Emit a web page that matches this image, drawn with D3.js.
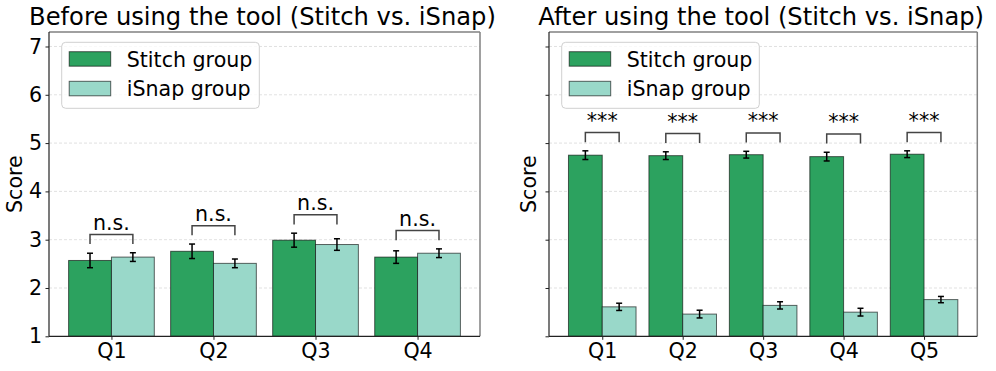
<!DOCTYPE html>
<html>
<head>
<meta charset="utf-8">
<script src="https://cdn.jsdelivr.net/npm/d3@7"></script>
<style>
  html, body { margin: 0; padding: 0; background: #fff; }
  svg { display: block; font-family: "DejaVu Sans", sans-serif; }
</style>
</head>
<body>
<svg id="chart" width="996" height="371"></svg>
<script>
// ---------------- data ----------------
const seriesNames = ["Stitch group", "iSnap group"];
const seriesColors = ["#2ca25f", "#99d8c9"];

const categoriesBefore = ["Q1", "Q2", "Q3", "Q4"];
const stitchBefore    = [2.57, 2.76, 2.99, 2.64];
const stitchBeforeErr = [0.15, 0.15, 0.145, 0.13];
const isnapBefore     = [2.64, 2.51, 2.90, 2.72];
const isnapBeforeErr  = [0.09, 0.09, 0.12, 0.09];
const sigBefore       = ["n.s.", "n.s.", "n.s.", "n.s."];

const categoriesAfter = ["Q1", "Q2", "Q3", "Q4", "Q5"];
const stitchAfter     = [4.75, 4.74, 4.76, 4.72, 4.77];
const stitchAfterErr  = [0.09, 0.08, 0.07, 0.09, 0.07];
const isnapAfter      = [1.61, 1.46, 1.64, 1.50, 1.76];
const isnapAfterErr   = [0.075, 0.08, 0.075, 0.08, 0.065];
const sigAfter        = ["***", "***", "***", "***", "***"];

const yTicks = [1, 2, 3, 4, 5, 6, 7];
const yDomain = [1, 7.3];
const titles = ["Before using the tool (Stitch vs. iSnap)", "After using the tool (Stitch vs. iSnap)"];
const yLabel = "Score";

// ---------------- layout ----------------
const svg = d3.select("#chart");
const barW = 0.42;
const FS = 20.6, TFS = 24.2;
const panels = [
  { left: 49, right: 480, cats: categoriesBefore, s: stitchBefore, se: stitchBeforeErr,
    i: isnapBefore, ie: isnapBeforeErr, sig: sigBefore, title: titles[0], showYLabels: true, labelX: 15 },
  { left: 549, right: 977.3, cats: categoriesAfter, s: stitchAfter, se: stitchAfterErr,
    i: isnapAfter, ie: isnapAfterErr, sig: sigAfter, title: titles[1], showYLabels: false, labelX: 529 }
];
const plotTop = 32, plotBottom = 336.3;

const y = d3.scaleLinear().domain(yDomain).range([plotBottom, plotTop]);

panels.forEach(p => {
  const n = p.cats.length;
  const margin = barW + 0.05 * (n - 1 + 2 * barW);
  const x = d3.scaleLinear().domain([-margin, n - 1 + margin]).range([p.left, p.right]);
  const g = svg.append("g");
  const pxW = x(barW) - x(0);

  // grid
  g.append("g").selectAll("line").data(yTicks.filter(t => t > yDomain[0])).join("line")
    .attr("x1", p.left).attr("x2", p.right)
    .attr("y1", d => y(d)).attr("y2", d => y(d))
    .attr("stroke", "#d9d9d9").attr("stroke-width", 0.8).attr("stroke-dasharray", "3,2");

  // bars
  const series = [
    { vals: p.s, errs: p.se, off: -barW / 2, color: seriesColors[0] },
    { vals: p.i, errs: p.ie, off: barW / 2, color: seriesColors[1] }
  ];
  series.forEach(sr => {
    g.append("g").selectAll("rect").data(sr.vals).join("rect")
      .attr("x", (d, k) => x(k + sr.off - barW / 2))
      .attr("width", pxW)
      .attr("y", d => y(d))
      .attr("height", d => y(yDomain[0]) - y(d))
      .attr("fill", sr.color)
      .attr("stroke", "#000").attr("stroke-opacity", 0.6).attr("stroke-width", 1);
  });
  // error bars
  series.forEach(sr => {
    const eg = g.append("g").attr("stroke", "#000").attr("stroke-width", 1.5);
    sr.vals.forEach((v, k) => {
      const cx = x(k + sr.off);
      const e = sr.errs[k];
      eg.append("line").attr("x1", cx).attr("x2", cx).attr("y1", y(v - e)).attr("y2", y(v + e));
      eg.append("line").attr("x1", cx - 3).attr("x2", cx + 3).attr("y1", y(v - e)).attr("y2", y(v - e));
      eg.append("line").attr("x1", cx - 3).attr("x2", cx + 3).attr("y1", y(v + e)).attr("y2", y(v + e));
    });
  });

  // significance brackets
  p.cats.forEach((c, k) => {
    const m = Math.max(p.s[k] + p.se[k], p.i[k] + p.ie[k]);
    const yb = m + 0.18, yt = yb + 0.2;
    const x1 = x(k - barW / 2), x2 = x(k + barW / 2);
    g.append("path")
      .attr("d", `M${x1},${y(yb)}L${x1},${y(yt)}L${x2},${y(yt)}L${x2},${y(yb)}`)
      .attr("fill", "none").attr("stroke", "#444").attr("stroke-width", 1.5);
    g.append("text").attr("x", (x1 + x2) / 2).attr("y", y(yt) - 4.5)
      .attr("text-anchor", "middle").attr("font-size", FS).attr("fill", "#000")
      .text(p.sig[k]);
  });

  // axes
  const xAxis = d3.axisBottom(x).tickValues(d3.range(n)).tickFormat(k => p.cats[k])
    .tickSizeInner(3.5).tickSizeOuter(0).tickPadding(3.5);
  const xa = g.append("g").attr("transform", `translate(0,${plotBottom})`).call(xAxis);
  xa.select(".domain").remove();
  xa.selectAll("line").attr("stroke", "#222");
  xa.selectAll("text").attr("font-size", FS).attr("fill", "#000").attr("font-family", "DejaVu Sans");

  const yAxis = d3.axisLeft(y).tickValues(yTicks).tickSizeInner(3.5).tickSizeOuter(0).tickPadding(3.5)
    .tickFormat(p.showYLabels ? d3.format("d") : () => "");
  const ya = g.append("g").attr("transform", `translate(${p.left},0)`).call(yAxis);
  ya.select(".domain").remove();
  ya.selectAll("line").attr("stroke", "#222");
  ya.selectAll("text").attr("font-size", FS).attr("fill", "#000").attr("font-family", "DejaVu Sans");

  // spines
  g.append("line").attr("x1", p.left).attr("x2", p.right).attr("y1", plotTop).attr("y2", plotTop)
    .attr("stroke", "#808080").attr("stroke-width", 1.5);
  g.append("line").attr("x1", p.right).attr("x2", p.right).attr("y1", plotTop).attr("y2", plotBottom)
    .attr("stroke", "#808080").attr("stroke-width", 1.5);
  g.append("line").attr("x1", p.left).attr("x2", p.left).attr("y1", plotTop).attr("y2", plotBottom)
    .attr("stroke", "#222").attr("stroke-width", 1.2);
  g.append("line").attr("x1", p.left).attr("x2", p.right).attr("y1", plotBottom).attr("y2", plotBottom)
    .attr("stroke", "#222").attr("stroke-width", 1.2);

  // title
  g.append("text").attr("x", (p.left + p.right) / 2 - 2).attr("y", 25)
    .attr("text-anchor", "middle").attr("font-size", TFS).attr("fill", "#000").text(p.title);

  // y label
  g.append("text").attr("transform", `translate(${p.labelX},${(plotTop + plotBottom) / 2}) rotate(-90)`)
    .attr("text-anchor", "middle").attr("dy", "0.35em")
    .attr("font-size", FS).attr("fill", "#000").text(yLabel);

  // legend
  const lx = p.left + 12.7, ly = 42.3;
  const lg = g.append("g");
  lg.append("rect").attr("x", lx).attr("y", ly).attr("width", 197.6).attr("height", 66)
    .attr("rx", 4).attr("fill", "#fff").attr("fill-opacity", 0.8)
    .attr("stroke", "#d0d0d0").attr("stroke-width", 1);
  seriesNames.forEach((nm, k) => {
    const ry = ly + 9.4 + k * 29.6;
    lg.append("rect").attr("x", lx + 7.5).attr("y", ry).attr("width", 41.5).attr("height", 14.5)
      .attr("fill", seriesColors[k]).attr("stroke", "#000").attr("stroke-opacity", 0.6).attr("stroke-width", 1);
    lg.append("text").attr("x", lx + 65).attr("y", ry + 14.8)
      .attr("font-size", FS).attr("fill", "#000").text(nm);
  });
});
</script>
</body>
</html>
